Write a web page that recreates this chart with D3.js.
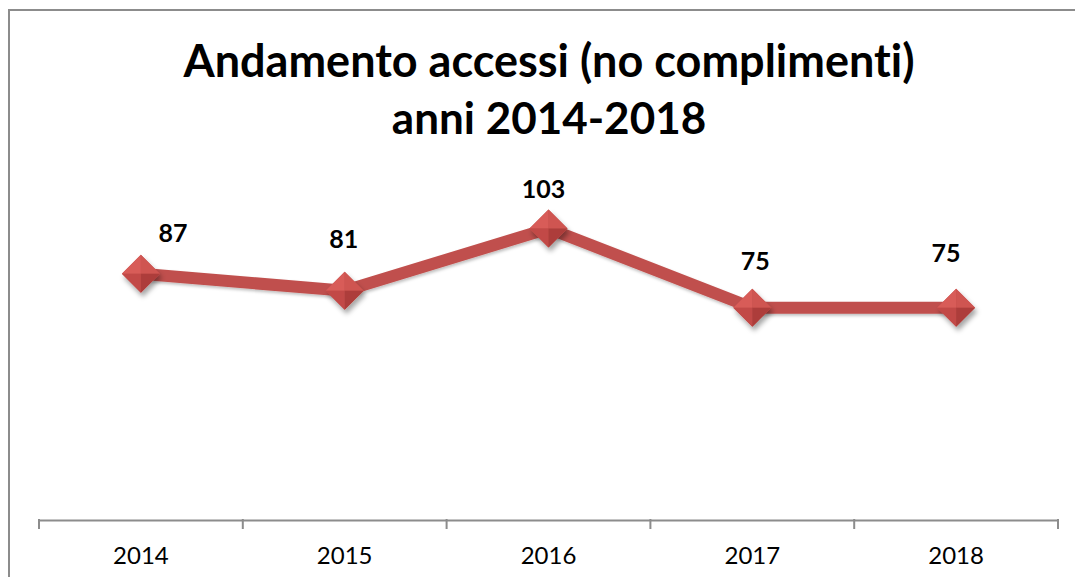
<!DOCTYPE html>
<html><head><meta charset="utf-8">
<script src="https://cdn.jsdelivr.net/npm/d3@7"></script>
<style>body{margin:0;background:#fff;} svg{display:block;} text{font-variant-ligatures:none;font-feature-settings:"liga" 0,"dlig" 0;}</style>
</head><body>
<svg id="c" width="1075" height="577"></svg>
<script>
const years = ["2014","2015","2016","2017","2018"];
const values = [87, 81, 103, 75, 75];
const titleLines = ["Andamento accessi (no complimenti)", "anni 2014-2018"];
// label offsets (style, relative to point)
const labelDx = [32, -1, -5, 3, -10];
const labelDy = [-32, -43, -31, -38, -46];

const svg = d3.select("#c");
const defs = svg.append("defs");
const f = defs.append("filter").attr("id","sh").attr("x","-50%").attr("y","-50%").attr("width","200%").attr("height","200%");
f.append("feDropShadow").attr("dx",2).attr("dy",4).attr("stdDeviation",2.5).attr("flood-color","#000").attr("flood-opacity",0.35);
const f2 = defs.append("filter").attr("id","sh2").attr("x","-10%").attr("y","-50%").attr("width","120%").attr("height","200%");
f2.append("feDropShadow").attr("dx",1).attr("dy",2).attr("stdDeviation",1.5).attr("flood-color","#000").attr("flood-opacity",0.25);

svg.append("rect").attr("x",9).attr("y",10).attr("width",1075).attr("height",600)
  .attr("fill","#fff").attr("stroke","#8c8c8c").attr("stroke-width",2);

const x = d3.scaleBand().domain(years).range([39,1058]).padding(0);
const y = d3.scaleLinear().domain([0,120]).range([520,180.4]);

// title
const t = svg.append("text").attr("text-anchor","middle").attr("font-family","Lato, sans-serif")
  .attr("font-weight","bold").attr("font-size",45).attr("fill","#000");
t.append("tspan").attr("x",549).attr("y",77).text(titleLines[0]);
t.append("tspan").attr("x",549).attr("y",134).attr("font-size",44).text(titleLines[1]);

// axis
const ax = svg.append("g").attr("transform","translate(0,520)")
  .call(d3.axisBottom(x).tickSize(0).tickSizeOuter(0));
ax.select(".domain").attr("stroke","#8c8c8c").attr("stroke-width",2);
ax.selectAll("text").attr("font-family","Lato, sans-serif").attr("font-size",24).attr("fill","#000")
  .attr("dy",0).attr("y",44);
// category separator ticks
const edges = years.map(d=>x(d)).concat([x(years[years.length-1])+x.bandwidth()]);
svg.append("g").selectAll("line").data(edges).join("line")
  .attr("x1",d=>d).attr("x2",d=>d).attr("y1",519).attr("y2",529)
  .attr("stroke","#8c8c8c").attr("stroke-width",2);

const cx = (d,i)=>x(years[i])+x.bandwidth()/2;
const line = d3.line().x((d,i)=>cx(d,i)).y(d=>y(d));
svg.append("path").datum(values).attr("d",line).attr("fill","none")
  .attr("stroke","#C0504D").attr("stroke-width",12).attr("stroke-linejoin","miter").attr("filter","url(#sh2)");

// diamonds
const r = 19;
const g = svg.append("g").selectAll("g").data(values).join("g")
  .attr("transform",(d,i)=>`translate(${cx(d,i)},${y(d)})`).attr("filter","url(#sh)");
g.append("path").attr("d",`M0,${-r}L${r},0L0,${r}L${-r},0Z`).attr("fill","#C0504D");
g.append("path").attr("d",`M0,${-r}L0,0L${-r},0Z`).attr("fill","#d85c59");
g.append("path").attr("d",`M0,${-r}L${r},0L0,0Z`).attr("fill","#cf5451");
g.append("path").attr("d",`M${-r},0L0,0L0,${r}Z`).attr("fill","#c24a47");
g.append("path").attr("d",`M0,0L${r},0L0,${r}Z`).attr("fill","#ad3e3b");

// labels
svg.append("g").selectAll("text").data(values).join("text")
  .attr("x",(d,i)=>cx(d,i)+labelDx[i]).attr("y",(d,i)=>y(d)+labelDy[i])
  .attr("text-anchor","middle").attr("font-family","Lato, sans-serif").attr("font-weight","bold")
  .attr("font-size",25).attr("fill","#000").text(d=>d);
</script>
</body></html>
